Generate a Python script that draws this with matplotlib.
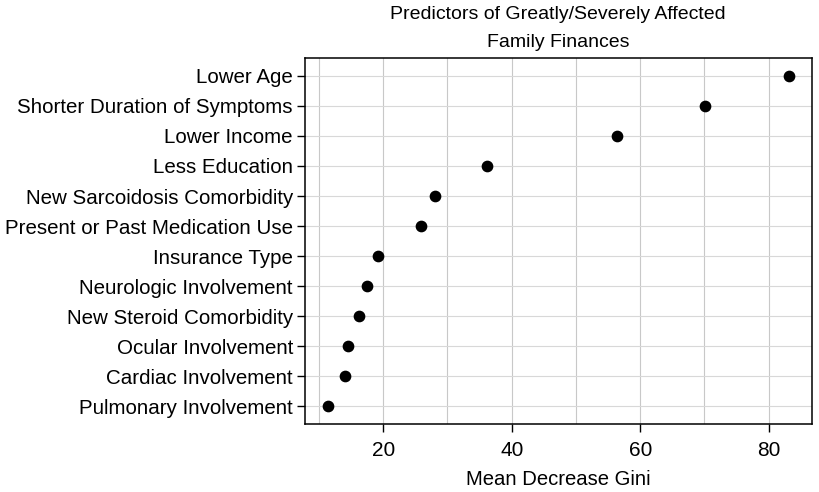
import matplotlib.pyplot as plt

plt.rcParams['font.family'] = ['Liberation Sans', 'DejaVu Sans']

predictors = ['Lower Age', 'Shorter Duration of Symptoms', 'Lower Income',
              'Less Education', 'New Sarcoidosis Comorbidity',
              'Present or Past Medication Use', 'Insurance Type',
              'Neurologic Involvement', 'New Steroid Comorbidity',
              'Ocular Involvement', 'Cardiac Involvement', 'Pulmonary Involvement']
gini = [83.2, 70.1, 56.4, 36.2, 28.1, 25.8, 19.2, 17.4, 16.2, 14.55, 14.0, 11.4]

fig = plt.figure(figsize=(8.19, 4.92), dpi=100)
ax = fig.add_axes([304.7 / 819, 1 - 424 / 492, (811.7 - 304.7) / 819, (424 - 58) / 492])

ypos = list(range(len(predictors), 0, -1))
ax.scatter(gini, ypos, s=55, color='black', zorder=3)

ax.set_xlim(7.77, 86.7)
ax.set_ylim(0.4, 12.6)
ax.set_xticks([20, 40, 60, 80])
ax.set_xticks(range(10, 90, 10), minor=True)
ax.set_yticks(ypos)
ax.set_yticklabels(predictors)
ax.grid(True, which='both', axis='x', color='#c8c8c8', linewidth=0.8)
ax.grid(True, axis='y', color='#d8d8d8', linewidth=0.8)
ax.set_axisbelow(True)
ax.tick_params(axis='y', which='major', labelsize=14.8, length=5.5, width=1, pad=3)
ax.tick_params(axis='x', which='major', labelsize=15, length=5.5, width=1, pad=7)
ax.tick_params(axis='x', which='minor', length=0)
for s in ax.spines.values():
    s.set_linewidth(1.1)

ax.set_xlabel('Mean Decrease Gini', fontsize=14.6, labelpad=7)
ax.set_title('Predictors of Greatly/Severely Affected\nFamily Finances', fontsize=14,
             linespacing=1.85, pad=8)

plt.savefig('out.png', dpi=100)
